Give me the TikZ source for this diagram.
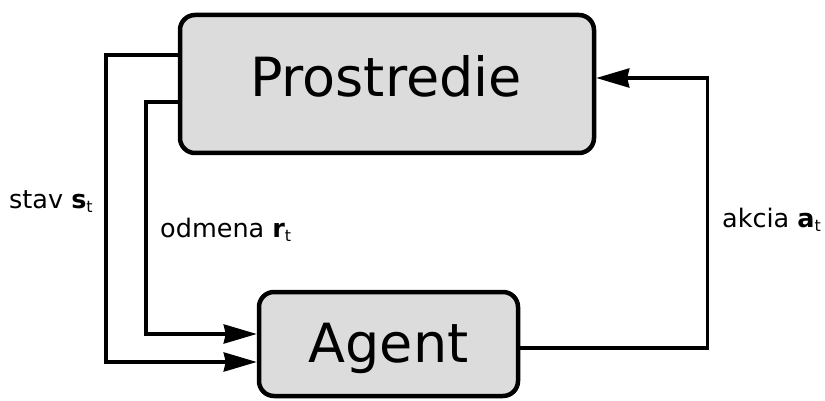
\documentclass[tikz,border=0pt]{standalone}
\usepackage{fontspec}
\setmainfont{DejaVu Sans}
\usetikzlibrary{arrows.meta}
\definecolor{boxgray}{HTML}{DCDCDC}
\newcommand{\subt}{\raisebox{-0.35ex}{\fontsize{16}{16}\selectfont t}}
\tikzset{
  boxnode/.style={draw=black, line width=4.5pt, fill=boxgray, rounded corners=15pt, inner sep=0pt},
  boxtext/.style={font=\fontsize{54}{60}\selectfont, inner sep=0pt, anchor=base},
  arr/.style={line width=3.5pt, -{Stealth[length=33pt,width=19pt,inset=2pt]}},
  lbl/.style={font=\fontsize{25.5}{28}\selectfont, inner sep=0pt}
}
\begin{document}
\begin{tikzpicture}[x=1pt,y=-1pt]
\useasboundingbox (0,0) rectangle (825,401);
\node[boxnode, minimum width=414pt, minimum height=138pt] (P) at (387,84) {};
\node[boxnode, minimum width=259pt, minimum height=104pt] (A) at (388.5,344) {};
\node[boxtext] (Pt) at (386,97) {Prostredie};
\node[boxtext] (At) at (388.5,362) {Agent};
\draw[arr] (P.west |- 0,55) -- ++(-72,0) |- (A.west |- 0,362);
\draw[arr] (P.west |- 0,102) -- ++(-32,0) |- (A.west |- 0,334);
\draw[arr] (A.east |- 0,348) -- ++(187,0) |- (P.east |- 0,78);
\node[lbl, anchor=base west] (ls) at (9,208) {stav \textbf{s}\subt};
\node[lbl, anchor=base west] (lr) at (160,237) {odmena \textbf{r}\subt};
\node[lbl, anchor=base west] (la) at (722,227) {akcia \textbf{a}\subt};
\end{tikzpicture}
\end{document}
